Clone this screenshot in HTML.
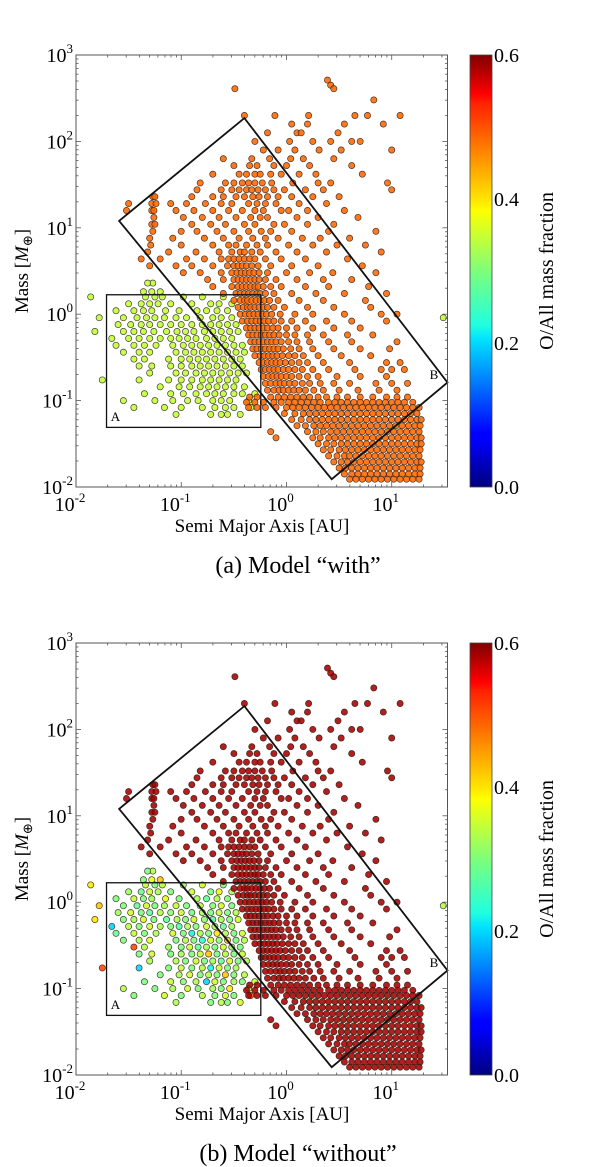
<!DOCTYPE html>
<html><head><meta charset="utf-8">
<style>
html,body{margin:0;padding:0;background:#fff;}
svg{display:block;font-family:"Liberation Serif",serif;}
</style></head>
<body>
<svg id="fig" width="600" height="1167" viewBox="0 0 600 1167" xmlns="http://www.w3.org/2000/svg">
<defs>
<linearGradient id="jet" x1="0" y1="1" x2="0" y2="0">
<stop offset="0" stop-color="#00007f"/><stop offset="0.11" stop-color="#0000ff"/>
<stop offset="0.125" stop-color="#0000ff"/><stop offset="0.34" stop-color="#00e0ff"/>
<stop offset="0.375" stop-color="#20ffe0"/><stop offset="0.5" stop-color="#7dff7a"/>
<stop offset="0.64" stop-color="#ffff00"/><stop offset="0.66" stop-color="#ffea00"/>
<stop offset="0.89" stop-color="#ff2000"/><stop offset="0.91" stop-color="#ff0000"/>
<stop offset="1" stop-color="#800000"/>
</linearGradient>
</defs>
</svg>
<script>
// ---- data (log10 a, log10 M); rows: [logM, "logA list"] ----
const outerRows = [
[2.71,"0.39"],[2.65,"0.42"],[2.61,"-0.49 0.45"],[2.48,"0.83"],
[2.30,"-0.40 -0.11 0.21 0.65 0.77 1.08"],[2.20,"0.05 0.20 0.92 0.55"],
[2.10,"-0.18 0.10 0.14 0.49"],[2.00,"-0.30 0.03 0.25 0.42 0.62 0.70"],
[1.90,"-0.08 0.08 -0.22 0.31 0.52 1.00"],[1.80,"-0.60 -0.33 -0.16 0.04 0.16 0.45"],
[1.72,"-0.50 -0.35 -0.28 -0.12 0.00 0.22 0.62"],
[1.62,"-0.70 -0.45 -0.38 -0.30 -0.25 -0.15 -0.05 0.12 0.28 0.72"],
[1.52,"-0.82 -0.58 -0.50 -0.42 -0.36 -0.30 -0.23 -0.14 0.06 0.30 0.42 0.96"],
[1.44,"-0.85 -0.62 -0.52 -0.45 -0.38 -0.33 -0.27 -0.20 -0.12 -0.02 0.18 0.35 1.00"],
[1.36,"-1.27 -1.25 -0.90 -0.70 -0.60 -0.48 -0.40 -0.32 -0.26 -0.18 -0.08 0.05 0.25 0.50"],
[1.28,"-1.50 -1.28 -1.24 -1.10 -0.95 -0.77 -0.62 -0.52 -0.36 -0.28 -0.20 -0.10 0.12 0.38"],
[1.20,"-1.52 -1.28 -1.26 -1.05 -0.88 -0.70 -0.55 -0.42 -0.30 -0.22 -0.05 0.02 0.20 0.55"],
[1.12,"-1.26 -0.98 -0.80 -0.64 -0.48 -0.34 -0.25 -0.18 0.10 0.30 0.68"],
[1.04,"-1.28 -1.25 -0.90 -0.72 -0.58 -0.40 -0.30 -0.12 -0.02 0.20 0.45"],
[0.96,"-1.27 -1.00 -0.85 -0.66 -0.50 -0.36 -0.24 -0.15 0.05 0.40 0.85"],
[0.88,"-1.30 -1.08 -0.78 -0.60 -0.45 -0.32 -0.20 -0.08 0.15 0.32 0.60"],
[0.80,"-1.29 -1.00 -0.70 -0.55 -0.48 -0.38 -0.28 -0.18 0.02 0.25 0.48 0.75"],
[0.72,"-1.32 -1.12 -0.86 -0.64 -0.52 -0.44 -0.40 -0.33 -0.25 -0.10 0.10 0.38 0.90"],
[0.64,"-1.38 -1.20 -0.95 -0.78 -0.62 -0.55 -0.50 -0.45 -0.40 -0.35 -0.30 -0.20 -0.05 0.18 0.58"],
[0.56,"-1.30 -1.05 -0.90 -0.70 -0.56 -0.50 -0.46 -0.42 -0.38 -0.33 -0.27 -0.15 0.05 0.30 0.72"],
[0.48,"-0.98 -0.82 -0.62 -0.52 -0.47 -0.43 -0.39 -0.35 -0.31 -0.26 -0.18 0.00 0.22 0.44 0.85"],
[0.40,"-0.75 -0.60 -0.50 -0.46 -0.42 -0.38 -0.34 -0.30 -0.26 -0.20 -0.10 0.10 0.35 0.62"],
[0.32,"-0.70 -0.52 -0.46 -0.42 -0.38 -0.34 -0.30 -0.27 -0.22 -0.15 -0.05 0.18 0.40 0.78"],
[0.24,"-0.60 -0.48 -0.44 -0.40 -0.36 -0.32 -0.28 -0.25 -0.20 -0.12 0.05 0.28 0.55 0.95"],
[0.16,"-0.50 -0.44 -0.40 -0.37 -0.33 -0.29 -0.25 -0.21 -0.16 -0.08 0.12 0.35 0.75"],
[0.08,"-0.46 -0.41 -0.37 -0.34 -0.30 -0.26 -0.22 -0.18 -0.12 -0.02 0.20 0.45 0.80"],
[0.00,"-0.44 -0.39 -0.35 -0.31 -0.27 -0.23 -0.19 -0.14 -0.06 0.08 0.25 0.55 0.90 1.05"],
[-0.08,"-0.42 -0.37 -0.33 -0.29 -0.25 -0.21 -0.17 -0.12 -0.05 0.05 0.18 0.38 0.62 0.95"],
[-0.16,"-0.38 -0.34 -0.30 -0.26 -0.22 -0.18 -0.13 -0.08 0.00 0.10 0.25 0.45 0.70"],
[-0.24,"-0.36 -0.32 -0.28 -0.24 -0.20 -0.16 -0.12 -0.07 0.00 0.08 0.20 0.35 0.58 0.82"],
[-0.32,"-0.34 -0.30 -0.26 -0.22 -0.18 -0.14 -0.10 -0.05 0.02 0.10 0.22 0.40 0.62 1.05"],
[-0.40,"-0.32 -0.28 -0.24 -0.20 -0.16 -0.12 -0.08 -0.03 0.04 0.12 0.25 0.45 0.70 0.98"],
[-0.48,"-0.30 -0.25 -0.21 -0.17 -0.13 -0.09 -0.04 0.02 0.08 0.16 0.30 0.52 0.80"],
[-0.56,"-0.26 -0.22 -0.18 -0.14 -0.10 -0.06 -0.01 0.05 0.12 0.20 0.35 0.60 0.95 1.08"],
[-0.64,"-0.24 -0.20 -0.16 -0.12 -0.08 -0.03 0.02 0.08 0.15 0.25 0.40 0.65 0.90 1.00 1.12"],
[-0.72,"-0.22 -0.17 -0.13 -0.09 -0.05 0.00 0.05 0.12 0.20 0.30 0.48 0.70 0.95"],
[-0.80,"-0.20 -0.15 -0.10 -0.06 -0.02 0.03 0.08 0.15 0.22 0.32 0.45 0.60 0.85 1.00 1.15"],
[-0.88,"-0.18 -0.12 -0.07 -0.03 0.02 0.07 0.12 0.18 0.26 0.35 0.50 0.68 0.88 1.05"],
[-0.96,"-0.35 -0.28 -0.15 -0.08 -0.02 0.04 0.10 0.16 0.22 0.30 0.38 0.48 0.58 0.70 0.82 0.95 1.05 1.15"],
[-1.02,"-0.38 -0.30 -0.22 -0.12 -0.05 0.02 0.08 0.14 0.20 0.26 0.32 0.40 0.46 0.52 0.58 0.64 0.70 0.76 0.82 0.88 0.94 1.00 1.06 1.12 1.20"],
[-1.08,"-0.36 -0.28 -0.20 -0.10 0.00 0.06 0.12 0.18 0.24 0.30 0.36 0.42 0.48 0.54 0.60 0.66 0.72 0.78 0.84 0.90 0.96 1.02 1.08 1.14 1.20 1.26"],
[-1.15,"-0.02 0.08 0.16 0.22 0.28 0.34 0.40 0.46 0.52 0.58 0.64 0.70 0.76 0.82 0.88 0.94 1.00 1.06 1.12 1.18 1.24"],
[-1.22,"0.05 0.14 0.22 0.28 0.34 0.40 0.46 0.52 0.58 0.64 0.70 0.76 0.82 0.88 0.94 1.00 1.06 1.12 1.18 1.24 1.28"],
[-1.29,"0.10 0.18 0.26 0.32 0.38 0.44 0.50 0.56 0.62 0.68 0.74 0.80 0.86 0.92 0.98 1.04 1.10 1.16 1.22 1.27"],
[-1.36,"-0.15 0.20 0.28 0.35 0.42 0.48 0.54 0.60 0.66 0.72 0.78 0.84 0.90 0.96 1.02 1.08 1.14 1.20 1.26"],
[-1.43,"-0.10 0.25 0.32 0.40 0.46 0.52 0.58 0.64 0.70 0.76 0.82 0.88 0.94 1.00 1.06 1.12 1.18 1.24 1.28"],
[-1.50,"0.30 0.38 0.45 0.52 0.58 0.64 0.70 0.76 0.82 0.88 0.94 1.00 1.06 1.12 1.18 1.24 1.28"],
[-1.57,"0.35 0.42 0.50 0.56 0.62 0.68 0.74 0.80 0.86 0.92 0.98 1.04 1.10 1.16 1.22 1.27"],
[-1.64,"0.40 0.48 0.55 0.60 0.66 0.72 0.78 0.84 0.90 0.96 1.02 1.08 1.14 1.20 1.26"],
[-1.71,"0.45 0.52 0.58 0.64 0.70 0.76 0.82 0.88 0.94 1.00 1.06 1.12 1.18 1.24 1.28"],
[-1.78,"0.50 0.56 0.62 0.68 0.74 0.80 0.86 0.92 0.98 1.04 1.10 1.16 1.22 1.27"],
[-1.85,"0.55 0.62 0.68 0.74 0.80 0.86 0.92 0.98 1.04 1.10 1.16 1.22 1.27"],
[-1.91,"0.60 0.66 0.72 0.78 0.84 0.90 0.96 1.02 1.08 1.14 1.20 1.26"]
];
const outerFracWith = 0.48;
const outerFracWithout = 0.58;
// inner (box A) rows: "logA/fracWithout" tokens
const innerRows = [
[0.36,"-1.27/0.34 -1.32/0.30"],
[0.26,"-1.36/0.30 -1.28/0.38 -1.20/0.42"],
[0.20,"-1.86/0.40 -1.34/0.35 -1.25/0.30 -1.18/0.34 -0.98/0.32 -0.80/0.36 -0.60/0.30"],
[0.12,"-1.50/0.32 -1.38/0.28 -1.30/0.36 -1.22/0.33 -1.10/0.30 -0.90/0.35 -0.72/0.30 -0.64/0.38 -0.52/0.33"],
[0.04,"-1.62/0.30 -1.45/0.35 -1.36/0.30 -1.28/0.32 -1.15/0.38 -1.02/0.30 -0.85/0.33 -0.76/0.28 -0.66/0.34 -0.56/0.30"],
[-0.04,"-1.78/0.42 -1.55/0.30 -1.42/0.28 -1.33/0.36 -1.25/0.30 -1.16/0.33 -1.05/0.35 -0.95/0.30 -0.82/0.34 -0.70/0.31 -0.62/0.36 -0.52/0.30"],
[-0.12,"-1.60/0.32 -1.48/0.36 -1.38/0.30 -1.30/0.27 -1.20/0.34 -1.10/0.31 -1.00/0.36 -0.90/0.29 -0.80/0.33 -0.72/0.30 -0.64/0.35 -0.56/0.30 -0.48/0.34"],
[-0.20,"-1.82/0.40 -1.55/0.30 -1.45/0.33 -1.36/0.36 -1.26/0.30 -1.14/0.28 -1.04/0.33 -0.96/0.30 -0.88/0.36 -0.78/0.31 -0.70/0.27 -0.62/0.33 -0.54/0.30 -0.46/0.36"],
[-0.28,"-1.66/0.20 -1.50/0.34 -1.40/0.30 -1.30/0.36 -1.20/0.33 -1.10/0.30 -1.02/0.26 -0.94/0.34 -0.86/0.30 -0.76/0.36 -0.68/0.32 -0.60/0.28 -0.52/0.33"],
[-0.36,"-1.62/0.28 -1.45/0.35 -1.35/0.30 -1.24/0.33 -1.08/0.36 -0.98/0.30 -0.90/0.22 -0.82/0.33 -0.74/0.30 -0.66/0.40 -0.58/0.34 -0.50/0.30 -0.42/0.36"],
[-0.44,"-1.55/0.30 -1.40/0.33 -1.30/0.37 -1.05/0.30 -0.96/0.34 -0.88/0.30 -0.80/0.24 -0.72/0.36 -0.64/0.31 -0.56/0.42 -0.48/0.30 -0.40/0.34"],
[-0.52,"-1.45/0.50 -1.35/0.34 -1.12/0.32 -1.00/0.30 -0.92/0.36 -0.84/0.28 -0.76/0.33 -0.68/0.30 -0.60/0.36 -0.52/0.32 -0.44/0.30"],
[-0.60,"-1.40/0.30 -1.28/0.36 -1.10/0.30 -1.00/0.33 -0.90/0.30 -0.82/0.35 -0.74/0.42 -0.66/0.30 -0.58/0.34 -0.50/0.30 -0.42/0.35"],
[-0.68,"-1.30/0.33 -1.05/0.34 -0.96/0.30 -0.86/0.36 -0.78/0.30 -0.70/0.33 -0.62/0.28 -0.54/0.36 -0.46/0.30 -0.38/0.33"],
[-0.76,"-1.75/0.50 -1.40/0.20 -1.12/0.30 -1.00/0.35 -0.90/0.30 -0.80/0.34 -0.72/0.22 -0.64/0.36 -0.56/0.30 -0.48/0.33"],
[-0.84,"-1.20/0.30 -1.02/0.33 -0.92/0.36 -0.82/0.30 -0.74/0.34 -0.66/0.30 -0.58/0.42 -0.50/0.30 -0.40/0.34"],
[-0.92,"-1.35/0.30 -1.10/0.35 -0.98/0.30 -0.86/0.33 -0.76/0.20 -0.68/0.36 -0.60/0.30 -0.50/0.33 -0.42/0.30 -0.30/0.36"],
[-1.00,"-1.55/0.34 -1.25/0.30 -1.08/0.33 -0.94/0.36 -0.84/0.30 -0.70/0.33 -0.62/0.30 -0.54/0.40 -0.36/0.33"],
[-1.08,"-1.45/0.30 -1.16/0.36 -1.00/0.30 -0.80/0.34 -0.68/0.30 -0.58/0.36 -0.50/0.30 -0.34/0.50"],
[-1.16,"-1.05/0.33 -0.72/0.30 -0.62/0.34 -0.56/0.30 -0.44/0.36"],
[-0.04,"1.49/0.34"]
];
const innerFracWith = 0.35;
const xTicks = [-2,-1,0,1];
const yTicks = [-2,-1,0,1,2,3];
const cbTicks = ["0.0","0.2","0.4","0.6"];
const boxA = [[-1.71,0.225],[-0.244,-1.31]];
const boxB = [[-1.59,1.08],[-0.40,2.27],[1.53,-0.79],[0.43,-1.91]];

const NS="http://www.w3.org/2000/svg";
const svg=document.getElementById('fig');
const L=76,R=447.5,T0=55,B0=487,XMIN=-2,XMAX=1.53,YMIN=-2,YMAX=3;
function sx(v){return L+(v-XMIN)/(XMAX-XMIN)*(R-L);}
function mk(tag,attrs,parent){const e=document.createElementNS(NS,tag);for(const k in attrs)e.setAttribute(k,attrs[k]);(parent||svg).appendChild(e);return e;}
function jet(f){let t=Math.max(0,Math.min(1,f/0.6));
 function seg(p){for(let i=0;i<p.length-1;i++){if(t<=p[i+1][0]){const a=p[i],b=p[i+1];return a[1]+(b[1]-a[1])*(t-a[0])/(b[0]-a[0]);}}return p[p.length-1][1];}
 const r=seg([[0,0],[0.35,0],[0.66,1],[0.89,1],[1,0.5]]);
 const g=seg([[0,0],[0.125,0],[0.375,1],[0.64,1],[0.91,0],[1,0]]);
 const b=seg([[0,0.5],[0.11,1],[0.34,1],[0.65,0],[1,0]]);
 return `rgb(${Math.round(r*255)},${Math.round(g*255)},${Math.round(b*255)})`;}

function panel(dy,key,caption){
 const T=T0+dy,B=B0+dy;
 const sy=v=>B-(v-YMIN)/(YMAX-YMIN)*(B-T);
 const g=mk('g',{});
 
 
 mk('rect',{x:L,y:T,width:R-L,height:B-T,fill:'#fff',stroke:'none'},g);
 const pts=mk('g',{},g);
 
 
 function dot(lx,ly,f){const c=mk('circle',{cx:sx(lx).toFixed(1),cy:sy(ly).toFixed(1),r:3.1,fill:jet(f),'fill-opacity':0.88,stroke:'#2a1a10','stroke-width':0.7,'stroke-opacity':0.85},pts);
  
  }
 innerRows.forEach(([ly,s])=>s.split(' ').forEach(tk=>{const [lx,fb]=tk.split('/').map(Number);dot(lx,ly,key==='with'?innerFracWith:fb);}));
 outerRows.forEach(([ly,s])=>s.split(' ').forEach(tk=>dot(Number(tk),ly,key==='with'?outerFracWith:outerFracWithout)));
 const a=mk('rect',{x:sx(boxA[0][0]),y:sy(boxA[0][1]),width:sx(boxA[1][0])-sx(boxA[0][0]),height:sy(boxA[1][1])-sy(boxA[0][1]),fill:'none',stroke:'#111','stroke-width':1.3},g);
 
 
 const b=mk('polygon',{points:boxB.map(p=>sx(p[0]).toFixed(1)+','+sy(p[1]).toFixed(1)).join(' '),fill:'none',stroke:'#111','stroke-width':1.8},g);
 
 
 const ta=mk('text',{x:sx(-1.67),y:sy(-1.18)+5,'font-size':13},g);ta.textContent='A';
 
 
 const tb=mk('text',{x:sx(1.36),y:sy(-0.69)+5,'font-size':13},g);tb.textContent='B';
 
 
 mk('rect',{x:L,y:T,width:R-L,height:B-T,fill:'none',stroke:'#555','stroke-width':1},g);
 for(let d=-2;d<=1;d++){for(let m=1;m<10;m++){const v=d+Math.log10(m);if(v>XMAX)continue;const x=sx(v),len=m===1?5:2.5;
   mk('line',{x1:x,y1:B,x2:x,y2:B-len,stroke:'#555','stroke-width':0.8},g);mk('line',{x1:x,y1:T,x2:x,y2:T+len,stroke:'#555','stroke-width':0.8},g);}}
 for(let d=-2;d<=3;d++){for(let m=1;m<10;m++){const v=d+Math.log10(m);if(v>YMAX)continue;const y=sy(v),len=m===1?5:2.5;
   mk('line',{x1:L,y1:y,x2:L+len,y2:y,stroke:'#555','stroke-width':0.8},g);mk('line',{x1:R,y1:y,x2:R-len,y2:y,stroke:'#555','stroke-width':0.8},g);}}
 xTicks.forEach(v=>{const t=mk('text',{x:sx(v)-6,y:B+24,'font-size':20,'text-anchor':'middle'},g);
   t.innerHTML=`10<tspan dy="-9" font-size="13">${v}</tspan>`;
   
   });
 yTicks.forEach(v=>{const t=mk('text',{x:L-3,y:sy(v)+7,'font-size':20,'text-anchor':'end'},g);
   t.innerHTML=`10<tspan dy="-9" font-size="13">${v}</tspan>`;
   
   });
 const xl=mk('text',{x:262,y:B+45,'font-size':19,'text-anchor':'middle'},g);xl.textContent='Semi Major Axis [AU]';
 
 
 const yl=mk('text',{x:0,y:0,'font-size':19,'text-anchor':'middle',transform:`translate(28,${(T+B)/2}) rotate(-90)`},g);
 yl.innerHTML='Mass [<tspan font-style="italic">M</tspan><tspan font-size="13" dy="4">⊕</tspan><tspan dy="-4">]</tspan>';
 
 
 const cb=mk('rect',{x:470,y:T,width:22,height:B-T,fill:'url(#jet)',stroke:'#444','stroke-width':0.8},g);
 
 
 cbTicks.forEach((s,i)=>{const y=B-i*(B-T)/3;const t=mk('text',{x:494,y:y+7,'font-size':20},g);t.textContent=s;
   
   });
 const cl=mk('text',{x:0,y:0,'font-size':20,'text-anchor':'middle',transform:`translate(553,${(T+B)/2}) rotate(-90)`},g);cl.textContent='O/All mass fraction';
 
 
 const cap=mk('text',{x:298,y:B+86,'font-size':24,'text-anchor':'middle'},g);cap.textContent=caption;
 
 
}
panel(0,'with','(a) Model \u201cwith\u201d');
panel(588,'without','(b) Model \u201cwithout\u201d');
</script>
</body></html>
